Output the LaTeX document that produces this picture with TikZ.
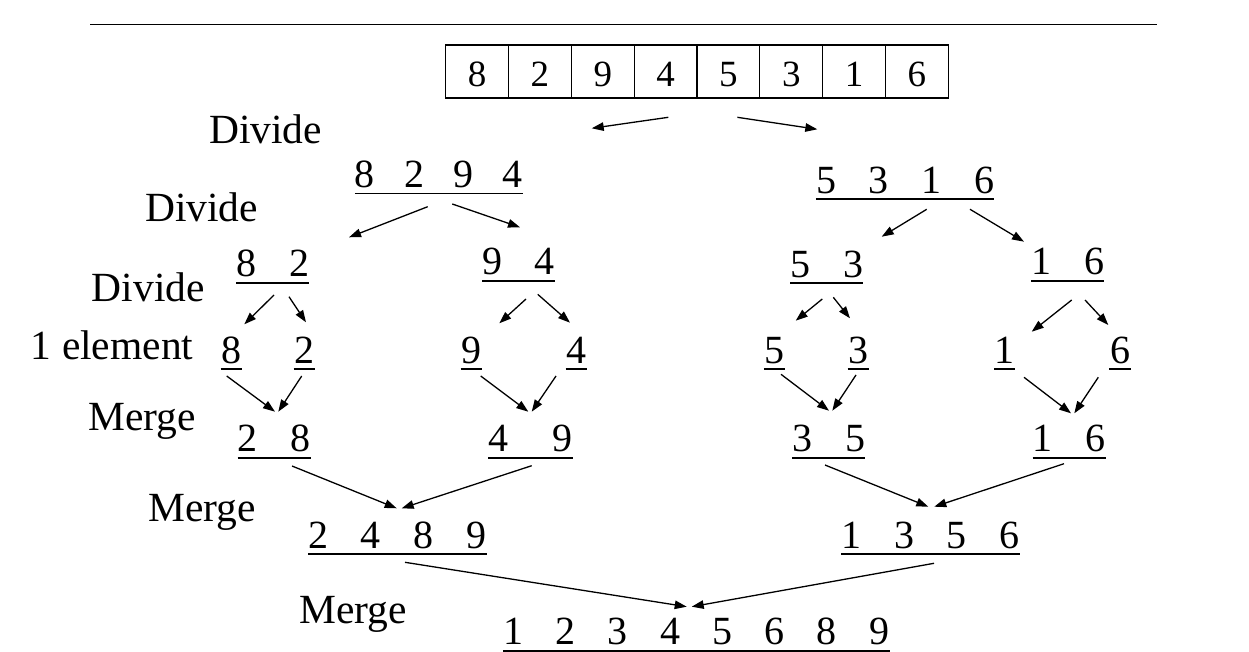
\documentclass[tikz,border=0pt]{standalone}
\usepackage{fontspec}
\setmainfont{Liberation Serif}
\usetikzlibrary{arrows.meta}
\newcommand\digfont{\fontsize{40}{42}\selectfont}
\newcommand\boxfont{\fontsize{37}{40}\selectfont}
\newcommand\lblfont{\fontsize{41.5}{44}\selectfont}
\newcommand\spread[2]{\makebox[#1pt][s]{#2}}

\begin{document}
\begin{tikzpicture}[x=1pt,y=-1pt,
    cell/.style={draw,line width=1.2pt,minimum width=62.83pt,minimum height=53pt,
                 inner sep=0pt,text height=31pt,text depth=0pt,font=\boxfont},
    row/.style={font=\digfont,inner sep=0pt,text depth=6pt,anchor=south},
    single/.style={row,minimum width=21pt},
    lbl/.style={font=\lblfont,inner sep=0pt,anchor=base west},
    arr/.style={line width=1.3pt,-{Triangle[length=12pt,width=8.5pt]}},
    uline/.style={line width=1.8pt}]
  \useasboundingbox (0,0) rectangle (1249,652);
  \draw[line width=1.2pt] (90,24.3) -- (1157,24.3);

  \foreach \d [count=\i] in {8,2,9,4,5,3,1,6}
    \node[cell] (c\i) at ({445.7+62.83*(\i-0.5)},71.5) {\d};

  \node[lbl] (div1) at (209,144) {Divide};
  \node[lbl] (div2) at (145,221.7) {Divide};
  \node[lbl] (div3) at (91.7,301.7) {Divide};
  \node[lbl] (one) at (30.7,359.3) {1 element};
  \node[lbl] (mrg1) at (88.3,430) {Merge};
  \node[lbl] (mrg2) at (148.3,521.7) {Merge};
  \node[lbl] (mrg3) at (299,623.3) {Merge};

  \node[row] (n8294) at (438.8,193.5) {\spread{167.7}{8 2 9 4}};
  \node[row] (n5316) at (905,199.3) {\spread{178}{5 3 1 6}};
  \node[row] (n82) at (272.7,282.7) {\spread{73}{8 2}};
  \node[row] (n94) at (518.8,281) {\spread{72.3}{9 4}};
  \node[row] (n53) at (826.7,283.3) {\spread{73}{5 3}};
  \node[row] (n16) at (1067.7,281) {\spread{73}{1 6}};
  \node[single] (n8) at (231.2,369.3) {8};
  \node[single] (n2) at (304.2,369.3) {2};
  \node[single] (n9) at (471.3,369.3) {9};
  \node[single] (n4) at (576.2,369.3) {4};
  \node[single] (n5) at (774.5,369.3) {5};
  \node[single] (n3) at (858.3,369.3) {3};
  \node[single] (n1) at (1004.7,369.3) {1};
  \node[single] (n6) at (1120,369.3) {6};
  \node[row] (n28) at (274.3,457.7) {\spread{73}{2 8}};
  \node[row] (n49) at (530.3,457.7) {\spread{84}{4 9}};
  \node[row] (n35) at (828.7,457.7) {\spread{73}{3 5}};
  \node[row] (n16m) at (1069.2,457.7) {\spread{73}{1 6}};
  \node[row] (n2489) at (397.3,554.3) {\spread{178}{2 4 8 9}};
  \node[row] (n1356) at (930.5,554.3) {\spread{178}{1 3 5 6}};
  \node[row] (nall) at (696.3,651) {\spread{386}{1 2 3 4 5 6 8 9}};

  \foreach \n in {n8294,n5316,n82,n94,n53,n16,n8,n2,n9,n4,n5,n3,n1,n6,
                  n28,n49,n35,n16m,n2489,n1356,nall}
    \draw[uline] (\n.south west) -- (\n.south east);

  \foreach \a/\sx/\sy/\b/\ex/\ey in {
      c4/2.7/18.7/n8294/152.9/-65.2, c5/8.9/18.7/n5316/-87.7/-70,
      n8294/-11.1/13.2/n82/76.3/-45.4, n8294/13.5/10.5/n94/1.2/-53.7,
      n5316/21.7/10/n53/55/-46.6, n5316/65/10/n16/-43.7/-39.3,
      n82/1.3/12.3/n8/13.1/-45, n82/16.3/14/n2/1.8/-47,
      n94/7.2/18/n9/28/-46, n94/18.9/13.3/n4/-6.2/-46.6,
      n53/-4.4/15.7/n5/21.2/-48.6, n53/6.6/14/n3/-8.3/-51,
      n16/4/19/n1/27/-37.6, n16/17.3/19/n6/-11.7/-44.3,
      n8/-4.5/6.7/n28/0.7/-46, n2/-2.5/6.7/n28/4/-46,
      n9/9.4/6.7/n49/-2/-46, n4/-20.2/6.7/n49/1.4/-46,
      n5/6.5/5/n35/0.3/-47, n3/-2.3/5.7/n35/3.6/-47,
      n1/19.3/8/n16m/1.8/-44.4, n6/-21.7/8/n16m/5.1/-44.4,
      n28/17.7/8.3/n2489/-0.6/-46, n49/1.4/8/n2489/4.4/-46,
      n35/-3.7/7.3/n1356/-2.2/-47.6, n16m/-5.2/6/n1356/3.8/-47.6,
      n2489/7.7/8/nall/-9.6/-44.3, n1356/3.5/9/nall/-4.6/-44.3}
    \draw[arr] ([shift={(\sx,\sy)}]\a.south) -- ([shift={(\ex,\ey)}]\b.south);
\end{tikzpicture}
\end{document}
